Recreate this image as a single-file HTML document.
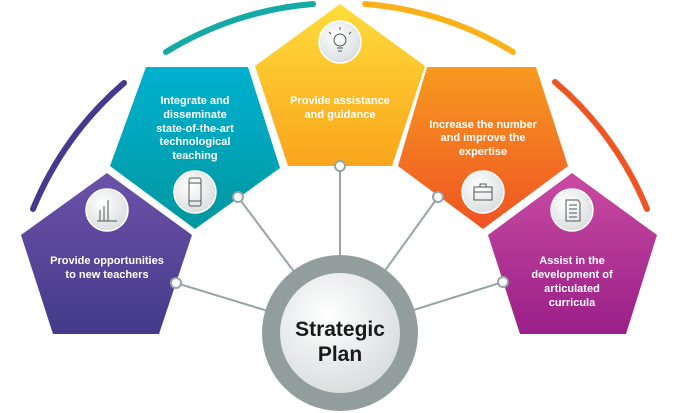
<!DOCTYPE html>
<html><head><meta charset="utf-8"><style>
html,body{margin:0;padding:0;background:#fff;width:680px;height:413px;overflow:hidden}
svg{display:block}
text{font-family:"Liberation Sans",sans-serif;font-weight:bold;fill:#fff;text-anchor:middle;font-size:11px}
</style></head><body>
<svg width="680" height="413" viewBox="0 0 680 413" xmlns="http://www.w3.org/2000/svg">
<defs>
<linearGradient id="gp" x1="0" y1="0" x2="0" y2="1"><stop offset="0" stop-color="#6b52a8"/><stop offset="1" stop-color="#443a8a"/></linearGradient>
<linearGradient id="gt" x1="0" y1="0" x2="0" y2="1"><stop offset="0" stop-color="#00b1d0"/><stop offset="1" stop-color="#00979f"/></linearGradient>
<linearGradient id="gy" x1="0" y1="0" x2="0" y2="1"><stop offset="0" stop-color="#ffdc3c"/><stop offset="1" stop-color="#f9a51b"/></linearGradient>
<linearGradient id="go" x1="0" y1="0" x2="0" y2="1"><stop offset="0" stop-color="#f79a20"/><stop offset="1" stop-color="#ef5323"/></linearGradient>
<linearGradient id="gm" x1="0" y1="0" x2="0" y2="1"><stop offset="0" stop-color="#c94ba2"/><stop offset="1" stop-color="#9a1f88"/></linearGradient>
<radialGradient id="gw" cx="0.4" cy="0.35" r="0.7"><stop offset="0" stop-color="#fff"/><stop offset="1" stop-color="#d8dcdd"/></radialGradient>
</defs>
<g fill="none" stroke-width="6" stroke-linecap="round">
<path d="M33 209 A331 331 0 0 1 124 83" stroke="#463a8f"/>
<path d="M166 52 A331 331 0 0 1 313 4" stroke="#16aaa6"/>
<path d="M365 4 A331 331 0 0 1 513 52" stroke="#fbb21a"/>
<path d="M555 82 A331 331 0 0 1 647 209" stroke="#ef5423"/>
</g>
<polygon points="107,173 192,235 159,334 53,334 21,235" fill="url(#gp)"/>
<polygon points="146,67 248,67 280,168 195,229 110,166" fill="url(#gt)"/>
<polygon points="340,4 425,66 392,166 288,166 255,66" fill="url(#gy)"/>
<polygon points="427,67 536,67 568,166 483,229 398,166" fill="url(#go)"/>
<polygon points="572,173 657,235 626,334 520,334 488,235" fill="url(#gm)"/>
<g stroke="#97a6a5" stroke-width="2">
<line x1="176" y1="283" x2="340" y2="333"/>
<line x1="238" y1="197" x2="340" y2="333"/>
<line x1="340" y1="166" x2="340" y2="333"/>
<line x1="438" y1="197" x2="340" y2="333"/>
<line x1="503" y1="282" x2="340" y2="333"/>
</g>
<g fill="#fff" stroke="#97a6a5" stroke-width="2">
<circle cx="176" cy="283" r="5"/><circle cx="238" cy="197" r="5"/><circle cx="340" cy="166" r="5"/><circle cx="438" cy="197" r="5"/><circle cx="503" cy="282" r="5"/>
</g>
<circle cx="340" cy="333" r="78" fill="#919e9d"/>
<circle cx="340" cy="333" r="60" fill="url(#gw)"/>
<text x="340" y="336" style="fill:#1a1a1a;font-size:21px">Strategic</text>
<text x="340" y="361" style="fill:#1a1a1a;font-size:21px">Plan</text>
<g fill="url(#gw)" stroke="#fff" stroke-width="1.5">
<circle cx="107" cy="210" r="21"/><circle cx="195" cy="192" r="21"/><circle cx="340" cy="42" r="21"/><circle cx="483" cy="192" r="21"/><circle cx="572" cy="210" r="21"/>
</g>
<g fill="none" stroke="#555" stroke-width="1">
<path d="M97 221 H117 M100 221 V210 M104 221 V206 M108 221 V200"/>
<rect x="189" y="178" width="12" height="28" rx="2"/><path d="M189 183 H201 M189 201 H201"/>
<circle cx="340" cy="40" r="6"/><path d="M337 48 H343 M338 51 H342 M340 30 V27 M331 34 L329 32 M349 34 L351 32"/>
<rect x="474" y="187" width="18" height="13"/><path d="M480 187 V184 H486 V187 M474 192 H492"/>
<path d="M566 200 H578 L580 203 V221 H566 Z M569 205 H577 M569 209 H577 M569 213 H577 M569 217 H577"/>
</g>
<text x="107" y="264">Provide opportunities</text>
<text x="107" y="278">to new teachers</text>
<text x="195" y="104">Integrate and</text>
<text x="195" y="118">disseminate</text>
<text x="195" y="132">state-of-the-art</text>
<text x="195" y="145">technological</text>
<text x="195" y="159">teaching</text>
<text x="340" y="104">Provide assistance</text>
<text x="340" y="118">and guidance</text>
<text x="483" y="128">Increase the number</text>
<text x="483" y="141">and improve the</text>
<text x="483" y="155">expertise</text>
<text x="572" y="264">Assist in the</text>
<text x="572" y="278">development of</text>
<text x="572" y="292">articulated</text>
<text x="572" y="306">curricula</text>
</svg>
</body></html>
